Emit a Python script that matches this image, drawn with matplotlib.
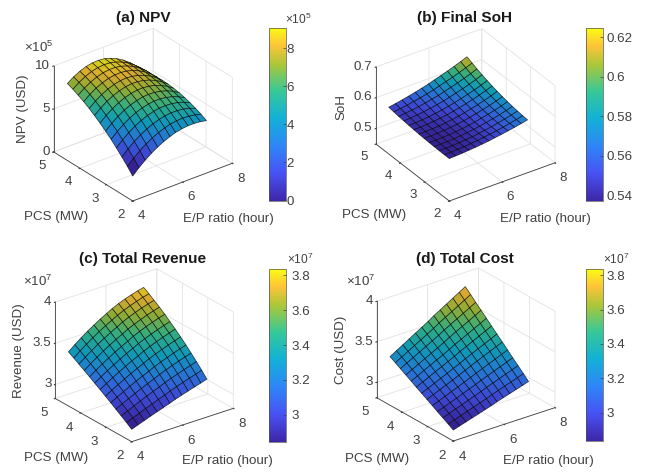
import matplotlib
matplotlib.use('Agg')
import matplotlib.pyplot as plt
import numpy as np
from matplotlib.colors import LinearSegmentedColormap, Normalize
from matplotlib.cm import ScalarMappable
from mpl_toolkits.mplot3d import proj3d

plt.rcParams['font.family'] = ['Liberation Sans', 'DejaVu Sans']
plt.rcParams['mathtext.default'] = 'regular'

ep_ratio = [4.0, 4.25, 4.5, 4.75, 5.0, 5.25, 5.5, 5.72, 5.97, 6.22, 6.47, 6.72, 6.96]
pcs = [2.0, 2.2, 2.41, 2.62, 2.82, 3.03, 3.24, 3.45, 3.65, 3.86, 4.07, 4.27, 4.48]

npv = [
    [2.90, 3.58, 4.19, 4.72, 5.17, 5.55, 5.85, 6.08, 6.23, 6.31, 6.31, 6.24, 6.10],
    [3.64, 4.32, 4.91, 5.42, 5.85, 6.20, 6.47, 6.67, 6.78, 6.82, 6.77, 6.65, 6.45],
    [4.34, 5.01, 5.59, 6.08, 6.49, 6.82, 7.06, 7.22, 7.30, 7.29, 7.20, 7.02, 6.75],
    [4.99, 5.65, 6.22, 6.70, 7.09, 7.39, 7.60, 7.72, 7.75, 7.70, 7.56, 7.32, 7.00],
    [5.61, 6.25, 6.80, 7.26, 7.62, 7.89, 8.07, 8.16, 8.15, 8.05, 7.86, 7.57, 7.21],
    [6.17, 6.80, 7.33, 7.77, 8.11, 8.35, 8.50, 8.55, 8.51, 8.37, 8.14, 7.81, 7.38],
    [6.70, 7.32, 7.83, 8.25, 8.57, 8.78, 8.90, 8.92, 8.83, 8.65, 8.36, 7.98, 7.50],
    [7.18, 7.78, 8.28, 8.67, 8.96, 9.15, 9.24, 9.22, 9.10, 8.87, 8.54, 8.11, 7.58],
    [7.62, 8.20, 8.68, 9.05, 9.32, 9.48, 9.53, 9.47, 9.31, 9.04, 8.67, 8.19, 7.61],
    [8.02, 8.58, 9.04, 9.38, 9.62, 9.75, 9.77, 9.68, 9.48, 9.17, 8.75, 8.22, 7.60],
    [8.37, 8.91, 9.34, 9.66, 9.87, 9.97, 9.96, 9.84, 9.61, 9.27, 8.81, 8.25, 7.55],
    [8.68, 9.20, 9.61, 9.91, 10.09, 10.16, 10.11, 9.95, 9.68, 9.29, 8.79, 8.18, 7.45],
    [8.95, 9.45, 9.83, 10.10, 10.25, 10.28, 10.20, 10.00, 9.69, 9.26, 8.72, 8.06, 7.30],
]

soh = [
    [.5870, .5880, .5893, .5910, .5930, .5953, .5980, .6010, .6043, .6080, .6120, .6163, .6210],
    [.5870, .5876, .5886, .5901, .5920, .5943, .5970, .6001, .6037, .6077, .6121, .6170, .6223],
    [.5871, .5875, .5883, .5897, .5915, .5939, .5967, .6000, .6039, .6082, .6130, .6183, .6241],
    [.5875, .5877, .5884, .5897, .5916, .5940, .5970, .6005, .6046, .6092, .6144, .6202, .6265],
    [.5881, .5883, .5890, .5904, .5923, .5949, .5980, .6018, .6061, .6110, .6165, .6227, .6294],
    [.5889, .5891, .5900, .5915, .5936, .5964, .5997, .6037, .6083, .6135, .6193, .6258, .6329],
    [.5900, .5904, .5914, .5931, .5954, .5984, .6020, .6062, .6111, .6166, .6228, .6296, .6370],
    [.5913, .5920, .5933, .5953, .5979, .6011, .6050, .6095, .6147, .6204, .6268, .6339, .6416],
    [.5928, .5939, .5956, .5980, .6010, .6045, .6087, .6135, .6189, .6250, .6316, .6389, .6468],
    [.5945, .5961, .5983, .6011, .6045, .6085, .6130, .6181, .6238, .6301, .6370, .6444, .6525],
    [.5964, .5987, .6015, .6048, .6087, .6131, .6180, .6235, .6295, .6360, .6431, .6507, .6588],
    [.5986, .6016, .6051, .6090, .6135, .6183, .6237, .6295, .6358, .6425, .6498, .6574, .6656],
    [.6010, .6049, .6091, .6138, .6188, .6242, .6300, .6362, .6428, .6497, .6571, .6649, .6730],
]

revenue = [
    [2.980, 3.009, 3.037, 3.065, 3.092, 3.119, 3.145, 3.171, 3.196, 3.220, 3.244, 3.267, 3.290],
    [3.026, 3.059, 3.090, 3.121, 3.151, 3.181, 3.209, 3.237, 3.264, 3.290, 3.315, 3.339, 3.362],
    [3.071, 3.107, 3.142, 3.176, 3.209, 3.241, 3.271, 3.301, 3.329, 3.356, 3.382, 3.407, 3.431],
    [3.115, 3.155, 3.193, 3.230, 3.265, 3.299, 3.332, 3.363, 3.393, 3.422, 3.449, 3.474, 3.498],
    [3.159, 3.202, 3.243, 3.282, 3.320, 3.356, 3.390, 3.423, 3.454, 3.483, 3.511, 3.537, 3.561],
    [3.202, 3.248, 3.292, 3.334, 3.374, 3.412, 3.448, 3.482, 3.514, 3.544, 3.572, 3.598, 3.622],
    [3.245, 3.294, 3.340, 3.384, 3.426, 3.466, 3.503, 3.538, 3.571, 3.602, 3.630, 3.656, 3.680],
    [3.287, 3.338, 3.387, 3.433, 3.477, 3.518, 3.557, 3.593, 3.626, 3.657, 3.685, 3.711, 3.735],
    [3.328, 3.382, 3.433, 3.481, 3.527, 3.569, 3.609, 3.646, 3.680, 3.712, 3.740, 3.766, 3.788],
    [3.369, 3.425, 3.478, 3.528, 3.575, 3.618, 3.659, 3.697, 3.731, 3.762, 3.791, 3.816, 3.838],
    [3.409, 3.467, 3.522, 3.574, 3.622, 3.667, 3.708, 3.746, 3.781, 3.812, 3.839, 3.864, 3.884],
    [3.448, 3.509, 3.565, 3.618, 3.668, 3.713, 3.755, 3.793, 3.828, 3.859, 3.886, 3.910, 3.929],
    [3.487, 3.549, 3.607, 3.661, 3.711, 3.758, 3.800, 3.838, 3.873, 3.903, 3.929, 3.952, 3.970],
]

cost = [
    [2.945, 2.970, 2.994, 3.019, 3.043, 3.068, 3.093, 3.117, 3.142, 3.166, 3.191, 3.215, 3.240],
    [2.984, 3.010, 3.037, 3.063, 3.090, 3.116, 3.142, 3.169, 3.195, 3.222, 3.248, 3.275, 3.301],
    [3.023, 3.051, 3.080, 3.108, 3.136, 3.164, 3.193, 3.221, 3.249, 3.278, 3.306, 3.334, 3.362],
    [3.061, 3.091, 3.121, 3.151, 3.181, 3.212, 3.242, 3.272, 3.302, 3.332, 3.362, 3.392, 3.422],
    [3.100, 3.132, 3.164, 3.196, 3.228, 3.260, 3.292, 3.323, 3.355, 3.387, 3.419, 3.451, 3.483],
    [3.139, 3.173, 3.207, 3.240, 3.274, 3.308, 3.342, 3.376, 3.409, 3.443, 3.477, 3.510, 3.544],
    [3.178, 3.214, 3.249, 3.285, 3.320, 3.356, 3.392, 3.427, 3.463, 3.498, 3.534, 3.569, 3.605],
    [3.216, 3.254, 3.291, 3.329, 3.366, 3.404, 3.441, 3.479, 3.516, 3.554, 3.591, 3.629, 3.666],
    [3.255, 3.294, 3.334, 3.373, 3.412, 3.451, 3.491, 3.530, 3.569, 3.608, 3.648, 3.687, 3.726],
    [3.294, 3.335, 3.376, 3.417, 3.458, 3.499, 3.541, 3.582, 3.623, 3.664, 3.705, 3.746, 3.787],
    [3.333, 3.376, 3.419, 3.462, 3.505, 3.548, 3.591, 3.633, 3.676, 3.719, 3.762, 3.805, 3.848],
    [3.371, 3.416, 3.461, 3.505, 3.550, 3.595, 3.640, 3.685, 3.729, 3.774, 3.819, 3.864, 3.909],
    [3.410, 3.457, 3.503, 3.550, 3.597, 3.643, 3.690, 3.737, 3.783, 3.830, 3.877, 3.923, 3.970],
]

titles = ['(a) NPV', '(b) Final SoH', '(c) Total Revenue', '(d) Total Cost']
zlabels = ['NPV (USD)', 'SoH', 'Revenue (USD)', 'Cost (USD)']
surfaces = [npv, soh, revenue, cost]
zlims = [(0, 10), (.449, .7), (2.83, 4), (2.81, 4)]
zticks = [[0, 5, 10], [.5, .6, .7], [3, 3.5, 4], [3, 3.5, 4]]
zticklabels = [['0', '5', '10'], ['0.5', '0.6', '0.7'], ['3', '3.5', '4'], ['3', '3.5', '4']]
cb_lims = [(-.05, 9.09), (.5373, .6244), (2.845, 3.837), (2.836, 3.836)]
cb_ticks = [[0, 2, 4, 6, 8], [.54, .56, .58, .6, .62], [3, 3.2, 3.4, 3.6, 3.8], [3, 3.2, 3.4, 3.6, 3.8]]
cb_ticklabels = [['0', '2', '4', '6', '8'], ['0.54', '0.56', '0.58', '0.6', '0.62'],
                 ['3', '3.2', '3.4', '3.6', '3.8'], ['3', '3.2', '3.4', '3.6', '3.8']]
z_scale = ['5', None, '7', '7']
cb_scale = ['5', None, '7', '7']

# view and box read from the corners of each box, pixels from top left
views = [(29, -128), (32, -124.3), (25.5, -127.3), (25.5, -127.3)]
boxes = [(126, 128, 98), (128, 130, 91), (128, 126.5, 107), (128, 126.5, 107)]
front = [(132.7, 201), (449.3, 201), (131.7, 441.7), (453.3, 441)]
right = [(232.3, 163.3), (555, 162.7), (233.3, 408.3), (555, 407.7)]
cb_box = [(268.7, 27.7, 286, 201), (586, 28.3, 602.7, 201), (268.7, 269, 286, 441.7), (586, 269, 602.7, 441)]
cb_pad = [.5, 3, 4, 3]
title_xy = [(143, 18), (465, 18), (143, 259), (465, 259)]
pcs_xy = [(56, 217), (374, 215), (56, 458), (377, 459)]
ep_xy = [(228, 219), (545, 219), (227, 461), (548, 461)]
zlabel_xy = [(23, 109), (341, 107), (19, 351), (341, 350)]
zscale_xy = [(39, 47), None, (38, 281), (361, 281)]
cbscale_xy = [(298, 19), None, (300, 259), (616, 259)]

parula = LinearSegmentedColormap.from_list('parula', [
    (0.0, (0.2422, 0.1504, 0.6603)), (0.16, (0.2810, 0.3228, 0.9579)),
    (0.32, (0.1786, 0.5289, 0.9682)), (0.48, (0.0689, 0.6948, 0.8394)),
    (0.635, (0.2161, 0.7843, 0.5923)), (0.79, (0.6720, 0.7793, 0.2227)),
    (0.9, (0.9970, 0.7659, 0.2199)), (1.0, (0.9769, 0.9839, 0.0805))])

W, H = 645, 472
FS = 9.6
TEXT = '#404040'
fig = plt.figure(figsize=(W / 100, H / 100), dpi=100)


def fx(x, y):
    return x / W, 1 - y / H


def to_px(ax, x, y, z):
    px, py, _ = proj3d.proj_transform(x, y, z, ax.get_proj())
    return ax.transData.transform((px, py))


X, Y = np.meshgrid(ep_ratio, pcs)
S = 260
for i in range(4):
    ax = fig.add_axes([0.1, 0.1, S / W, S / H], projection='3d', proj_type='ortho')
    ax.patch.set_alpha(0)
    ax.view_init(elev=views[i][0], azim=views[i][1])
    ax.set_xlim(4, 8, view_margin=0)
    ax.set_ylim(2, 5, view_margin=0)
    ax.set_zlim(*zlims[i], view_margin=0)

    Z = np.array(surfaces[i])
    colors = parula(Normalize(Z.min(), Z.max())(Z))
    # the original mesh is finer, so it reads darker
    colors[..., :3] *= .86
    ax.plot_surface(X, Y, Z, facecolors=colors, rstride=1, cstride=1, shade=False,
                    edgecolor=(0, 0, 0, .75), linewidth=.5)

    ax.set_xticks([4, 6, 8])
    ax.set_yticks([2, 3, 4, 5])
    ax.set_zticks(zticks[i])
    ax.set_zticklabels(zticklabels[i])
    for axis in (ax.xaxis, ax.yaxis, ax.zaxis):
        axis.set_pane_color((1, 1, 1, 0))
        axis.pane.set_edgecolor('#dcdcdc')
        axis.line.set_color('#404040')
        axis.line.set_linewidth(.6)
        axis._axinfo['grid'].update(color='#e2e2e2', linewidth=.6)
        axis._axinfo['tick'].update(inward_factor=.1, outward_factor=0)
    ax.tick_params(labelsize=FS, labelcolor=TEXT, color='#404040', pad=3)
    ax.zaxis.set_tick_params(pad=-6)
    for t in ax.get_xticklabels() + ax.get_yticklabels():
        t.set_va('center')
    for t in ax.get_zticklabels():
        t.set_va('center')
        t.set_ha('right')

    # scale and move the box so its corners land where the reference has them
    ax.set_box_aspect(boxes[i], zoom=1)
    a = to_px(ax, 4, 2, zlims[i][0])
    b = to_px(ax, 8, 2, zlims[i][0])
    want = np.hypot(right[i][0] - front[i][0], right[i][1] - front[i][1])
    ax.set_box_aspect(boxes[i], zoom=want / np.hypot(*(b - a)))
    a = to_px(ax, 4, 2, zlims[i][0])
    tx, ty = front[i][0], H - front[i][1]
    ax.set_position([0.1 + (tx - a[0]) / W, 0.1 + (ty - a[1]) / H, S / W, S / H])

    l, t, r, btm = cb_box[i]
    cax = fig.add_axes([l / W, 1 - btm / H, (r - l) / W, (btm - t) / H])
    sm = ScalarMappable(Normalize(*cb_lims[i]), parula)
    cb = fig.colorbar(sm, cax=cax)
    cb.set_ticks(cb_ticks[i], labels=cb_ticklabels[i])
    cb.ax.tick_params(labelsize=FS, labelcolor=TEXT, length=2, width=.5, direction='in', color='#404040', pad=cb_pad[i])
    cb.outline.set_edgecolor('#505050')
    cb.outline.set_linewidth(.5)

    fig.text(*fx(*title_xy[i]), titles[i], fontsize=11.1, fontweight='bold', color='#1a1a1a', ha='center', va='center')
    fig.text(*fx(*pcs_xy[i]), 'PCS (MW)', fontsize=FS, color=TEXT, ha='center', va='center')
    fig.text(*fx(*ep_xy[i]), 'E/P ratio (hour)', fontsize=FS, color=TEXT, ha='center', va='center')
    fig.text(*fx(*zlabel_xy[i]), zlabels[i], fontsize=FS, color=TEXT, ha='center', va='center', rotation=90)
    if z_scale[i]:
        fig.text(*fx(*zscale_xy[i]), r'$\times 10^{%s}$' % z_scale[i], fontsize=FS, color=TEXT, ha='center', va='center')
        fig.text(*fx(*cbscale_xy[i]), r'$\times 10^{%s}$' % cb_scale[i], fontsize=FS - 1, color=TEXT, ha='center', va='center')

fig.savefig('out.png', dpi=100)
